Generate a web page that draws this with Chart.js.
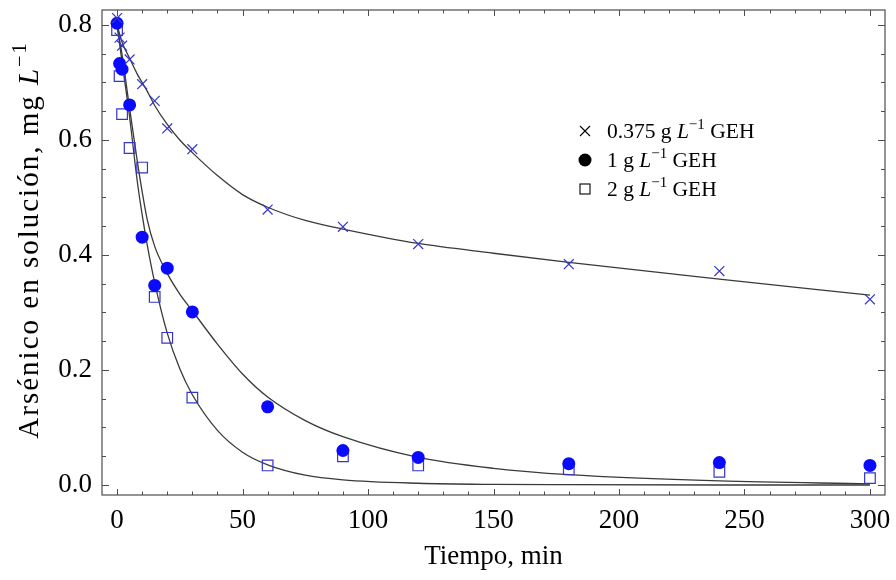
<!DOCTYPE html>
<html>
<head>
<meta charset="utf-8">
<script src="https://cdn.jsdelivr.net/npm/chart.js@4/dist/chart.umd.min.js"></script>
<style>
  html, body { margin: 0; padding: 0; background: #fff; }
  #wrap { width: 896px; height: 580px; }
</style>
</head>
<body>
<div id="wrap"><canvas id="arsenicChart" width="896" height="580"></canvas></div>
<script>
// Sampling times (min) and measured arsenic left in solution (mg/L)
const timeMin = [0, 1, 2, 5, 10, 15, 20, 30, 60, 90, 120, 180, 240, 300];
const geh0375 = [0.812, 0.778, 0.764, 0.740, 0.697, 0.668, 0.620, 0.584, 0.479, 0.449, 0.419, 0.384, 0.372, 0.323];
const geh1 = [0.803, 0.733, 0.723, 0.661, 0.431, 0.347, 0.377, 0.301, 0.136, 0.060, 0.048, 0.037, 0.039, 0.034];
const geh2 = [0.791, 0.711, 0.645, 0.586, 0.552, 0.327, 0.256, 0.152, 0.034, 0.050, 0.034, 0.027, 0.023, 0.012];

// Fitted kinetic curves
const fitTime = [0, 2, 5, 8, 10, 12, 15, 20, 25, 30, 40, 50, 60, 75, 90, 120, 150, 180, 240, 300];
const fit0375 = [0.800, 0.770, 0.742, 0.715, 0.700, 0.685, 0.660, 0.627, 0.600, 0.578, 0.538, 0.505, 0.483, 0.460, 0.445, 0.420, 0.403, 0.387, 0.358, 0.330];
const fit1 = [0.800, 0.748, 0.655, 0.565, 0.510, 0.462, 0.415, 0.368, 0.332, 0.303, 0.245, 0.193, 0.153, 0.112, 0.084, 0.048, 0.029, 0.018, 0.007, 0.002];
const fit2 = [0.800, 0.735, 0.640, 0.530, 0.470, 0.418, 0.352, 0.264, 0.202, 0.157, 0.095, 0.057, 0.035, 0.017, 0.009, 0.003, 0.001, 0.0005, 0, 0];

const xTicks = [0, 50, 100, 150, 200, 250, 300];
const yTicks = [0, 0.2, 0.4, 0.6, 0.8];
const doses = ['0.375', '1', '2'];

const SERIF = "'Liberation Serif', 'DejaVu Serif', serif";
const MARK = '#3535c8';

function pts(xs, ys) {
    return xs.map((x, i) => ({ x: x, y: ys[i] }));
}

// draws text runs with italic / superscript pieces, returns the width
function richText(ctx, parts, x, y, size, measureOnly) {
    let cx = x;
    parts.forEach(p => {
        const fs = p.sup ? size * 0.7 : size;
        ctx.font = (p.italic ? 'italic ' : '') + fs + 'px ' + SERIF;
        if (!measureOnly) ctx.fillText(p.text, cx, p.sup ? y - size * 0.42 : y);
        cx += ctx.measureText(p.text).width;
    });
    return cx - x;
}

// keep the plot box fixed, labels may overhang
function noScalePadding(s) {
    s.paddingTop = 0;
    s.paddingBottom = 0;
    s.paddingLeft = 0;
    s.paddingRight = 0;
}

const frameAndText = {
    id: 'frameAndText',
    afterDraw(chart) {
        const ctx = chart.ctx;
        const a = chart.chartArea;
        const xs = chart.scales.x, ys = chart.scales.y;
        ctx.save();

        // frame
        ctx.strokeStyle = '#4d4d4d';
        ctx.lineWidth = 1.2;
        ctx.strokeRect(a.left, a.top, a.right - a.left, a.bottom - a.top);

        // inward ticks on all four sides
        ctx.lineWidth = 1;
        ctx.beginPath();
        for (let t = 0; t <= 300; t += 10) {
            const px = Math.round(xs.getPixelForValue(t)) + 0.5;
            const len = t % 50 === 0 ? 6 : 3.5;
            ctx.moveTo(px, a.bottom); ctx.lineTo(px, a.bottom - len);
            ctx.moveTo(px, a.top); ctx.lineTo(px, a.top + len);
        }
        for (let k = 0; k <= 16; k++) {
            const py = Math.round(ys.getPixelForValue(k * 0.05)) + 0.5;
            const len = k % 4 === 0 ? 7 : 4;
            ctx.moveTo(a.left, py); ctx.lineTo(a.left + len, py);
            ctx.moveTo(a.right, py); ctx.lineTo(a.right - len, py);
        }
        ctx.stroke();

        ctx.fillStyle = '#000';
        ctx.textBaseline = 'alphabetic';
        ctx.textAlign = 'left';

        // x axis title
        ctx.font = '27px ' + SERIF;
        ctx.textAlign = 'center';
        ctx.fillText('Tiempo, min', (a.left + a.right) / 2, 564);
        ctx.textAlign = 'left';

        // y axis title, rotated
        const yTitle = [
            { text: 'Arsénico en solución, mg ' },
            { text: 'L', italic: true },
            { text: '−1', sup: true }
        ];
        ctx.save();
        ctx.translate(38, 240);
        ctx.rotate(-Math.PI / 2);
        ctx.letterSpacing = '2px';
        const w = richText(ctx, yTitle, 0, 0, 29, true);
        richText(ctx, yTitle, -w / 2, 0, 29);
        ctx.restore();

        // legend
        const lx = 585, rows = [131, 160, 189];
        doses.forEach((d, i) => {
            const cy = rows[i];
            ctx.strokeStyle = '#000';
            ctx.fillStyle = '#000';
            ctx.lineWidth = 1.1;
            if (i === 0) {
                ctx.beginPath();
                ctx.moveTo(lx - 5, cy - 5); ctx.lineTo(lx + 5, cy + 5);
                ctx.moveTo(lx + 5, cy - 5); ctx.lineTo(lx - 5, cy + 5);
                ctx.stroke();
            } else if (i === 1) {
                ctx.beginPath();
                ctx.arc(lx, cy, 6.5, 0, Math.PI * 2);
                ctx.fill();
            } else {
                ctx.strokeRect(lx - 5, cy - 5, 10, 10);
            }
            richText(ctx, [
                { text: d + ' g ' },
                { text: 'L', italic: true },
                { text: '−1', sup: true },
                { text: ' GEH' }
            ], 607, cy + 7, 21.5);
        });

        ctx.restore();
    }
};

function fitLine(label, ys, order) {
    return {
        label: label,
        data: pts(fitTime, ys),
        showLine: true,
        pointRadius: 0,
        borderColor: '#3a3a3a',
        borderWidth: 1.3,
        cubicInterpolationMode: 'monotone',
        order: order
    };
}

const ctx = document.getElementById('arsenicChart').getContext('2d');
new Chart(ctx, {
    type: 'scatter',
    data: {
        datasets: [
            {
                label: '0.375 g/L GEH',
                data: pts(timeMin, geh0375),
                pointStyle: 'crossRot',
                pointRadius: 7,
                borderColor: MARK,
                borderWidth: 1.2,
                order: 1
            },
            {
                label: '1 g/L GEH',
                data: pts(timeMin, geh1),
                pointStyle: 'circle',
                pointRadius: 6.5,
                backgroundColor: '#0a0aff',
                borderColor: '#0a0aff',
                borderWidth: 0,
                order: 2
            },
            {
                label: '2 g/L GEH',
                data: pts(timeMin, geh2),
                pointStyle: 'rect',
                pointRadius: 7.5,
                backgroundColor: 'rgba(0,0,0,0)',
                borderColor: MARK,
                borderWidth: 1.2,
                order: 3
            },
            fitLine('fit 0.375', fit0375, 4),
            fitLine('fit 1', fit1, 5),
            fitLine('fit 2', fit2, 6)
        ]
    },
    options: {
        responsive: false,
        animation: false,
        events: [],
        layout: { padding: { left: 0, right: 11, top: 10, bottom: 0 } },
        plugins: {
            legend: { display: false },
            tooltip: { enabled: false }
        },
        scales: {
            x: {
                type: 'linear',
                min: -6,
                max: 306,
                grid: { display: false, drawTicks: false },
                border: { display: false },
                afterBuildTicks: s => { s.ticks = xTicks.map(v => ({ value: v })); },
                afterFit: s => { s.height = 85; noScalePadding(s); },
                ticks: {
                    color: '#000',
                    padding: 10,
                    maxRotation: 0,
                    font: { family: SERIF, size: 27 },
                    callback: v => String(v)
                }
            },
            y: {
                type: 'linear',
                min: -0.0174,
                max: 0.826,
                grid: { display: false, drawTicks: false },
                border: { display: false },
                afterBuildTicks: s => { s.ticks = yTicks.map(v => ({ value: v })); },
                afterFit: s => { s.width = 102; noScalePadding(s); },
                ticks: {
                    color: '#000',
                    padding: 10,
                    font: { family: SERIF, size: 27 },
                    callback: v => v.toFixed(1)
                }
            }
        }
    },
    plugins: [frameAndText]
});
</script>
</body>
</html>
